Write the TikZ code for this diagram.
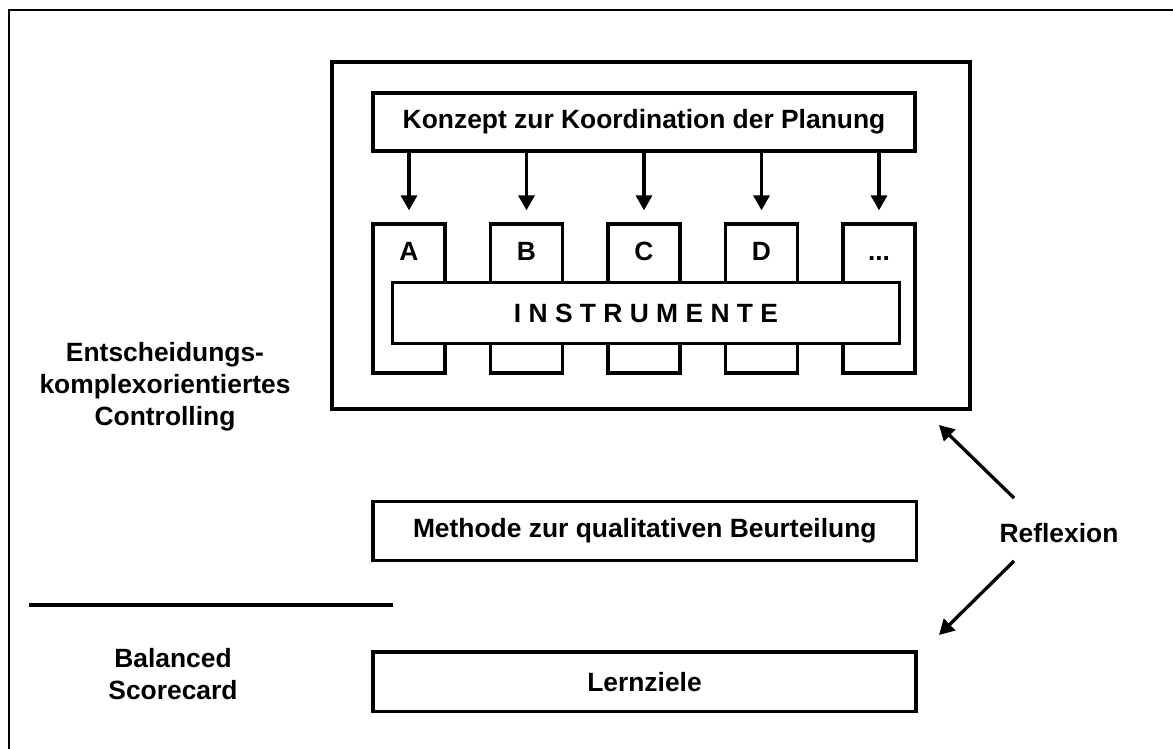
\documentclass[tikz,border=0pt]{standalone}
\usepackage{fontspec}
\setmainfont{Liberation Sans}
\usetikzlibrary{arrows.meta,calc}

\tikzset{
  boxline/.style={draw=black, line width=3.3pt},
  frame/.style={boxline, fill=white, inner sep=0pt},
  txt/.style={font=\fontsize{26.4}{32}\selectfont\bfseries, inner sep=0pt},
  arr/.style={line width=3.3pt, -{Triangle[length=15pt,width=16pt]}},
}

\begin{document}
\begin{tikzpicture}[x=1pt, y=-1pt]
  \useasboundingbox (0,0) rectangle (1173,748);

  % page frame (only the top and left edges fall inside)
  \draw[line width=2pt] (8.5,760) -- (8.5,9.5) -- (1180,9.5);

  % outer box of the controlling concept
  \node[frame, minimum width=638pt, minimum height=347pt] (outer) at (651,235.5) {};

  % planning coordination
  \node[frame, txt, minimum width=542pt, minimum height=58pt] (konzept) at (644,122)
    {Konzept zur Koordination der Planung};

  % planning modules
  \foreach \n/\x in {A/409, B/526.5, C/644, D/761.5, E/879} {
    \node[frame, minimum width=72pt, minimum height=149pt] (\n) at (\x,298.5) {};
  }
  \foreach \n in {A,B,C,D} {
    \node[txt, anchor=base] (l\n) at ($(\n.north)+(0,38)$) {\n};
  }
  \node[txt, anchor=base] (lE) at ($(E.north)+(0,38)$) {.\kern0pt.\kern0pt.};

  % instruments bar across the modules
  \node[frame, txt, minimum width=507pt, minimum height=61pt] (instr) at (646,313)
    {I N S T R U M E N T E};

  % arrows from the coordination box to each module
  \foreach \n in {A,B,C,D,E} {
    \draw[arr] (konzept.south -| \n.north) -- ($(\n.north)+(0,-12)$);
  }

  % lower boxes
  \node[frame, txt, minimum width=543.5pt, minimum height=59pt] (methode) at (644.75,531)
    {Methode zur qualitativen Beurteilung};
  \node[frame, txt, minimum width=543pt, minimum height=59.5pt] (lern) at (644.5,681.75)
    {Lernziele};

  % separator line
  \coordinate (sepL) at (29,605);
  \coordinate (sepR) at (392.7,605);
  \draw[boxline] (sepL) -- (sepR);

  % side labels
  \node[txt, align=center] (ekc) at (165,387)
    {Entscheidungs-\\komplexorientiertes\\Controlling};
  \node[txt, align=center] (bsc) at (173,674) {Balanced\\Scorecard};

  % reflexion
  \node[txt] (refl) at (1059,533) {Reflexion};
  \coordinate (r1s) at (1014,498);
  \coordinate (r1e) at (939,425);
  \coordinate (r2s) at (1014,561);
  \coordinate (r2e) at (939,635);
  \draw[arr] (r1s) -- (r1e);
  \draw[arr] (r2s) -- (r2e);
\end{tikzpicture}
\end{document}
